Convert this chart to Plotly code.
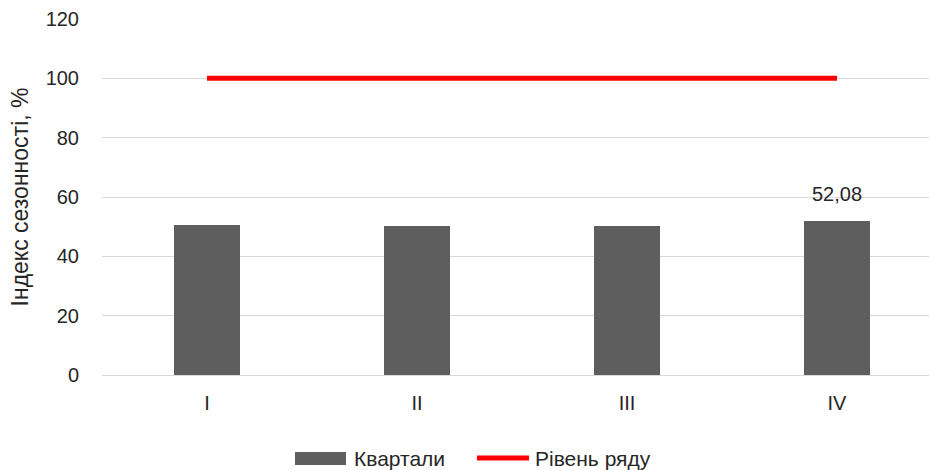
import plotly.graph_objects as go

# Seasonality index by quarter, %
quarters = ["I", "II", "III", "IV"]
season_index = [50.56, 50.22, 50.2, 52.08]
series_level = [100, 100, 100, 100]
labelled = [False, False, False, True]
y_ticks = [0, 20, 40, 60, 80, 100, 120]

FONT = "Liberation Sans, Arial, sans-serif"
TEXT = "#262626"
BAR_COLOR = "#5e5e5e"
LINE_COLOR = "#ff0000"

W, H = 929, 470
ML, MR, MT, MB = 102, 0, 19, 95
PW, PH = W - ML - MR, H - MT - MB

fig = go.Figure()
fig.add_trace(go.Bar(
    x=quarters, y=season_index, name="Квартали",
    marker=dict(color=BAR_COLOR, line=dict(width=0)),
    width=0.314, showlegend=False,
))
fig.add_trace(go.Scatter(
    x=quarters, y=series_level, name="Рівень ряду", mode="lines",
    line=dict(color=LINE_COLOR, width=5), showlegend=False,
))

# value label above the last bar
for q, v, show in zip(quarters, season_index, labelled):
    if show:
        fig.add_annotation(
            x=q, y=v, text=f"{v:.2f}".replace(".", ","), showarrow=False,
            yanchor="bottom", yshift=14, font=dict(size=20, color=TEXT, family=FONT),
        )


# legend drawn below the plot, positioned in pixels of the figure
def px_x(px):
    return (px - ML) / PW


def px_y(py):
    return (H - MB - py) / PH


legend_y = 458
fig.add_shape(type="rect", xref="paper", yref="paper",
              x0=px_x(295), x1=px_x(346), y0=px_y(452), y1=px_y(465),
              fillcolor=BAR_COLOR, line=dict(width=0))
fig.add_annotation(xref="paper", yref="paper", x=px_x(352), y=px_y(legend_y),
                   text="Квартали", showarrow=False, xanchor="left", yanchor="middle",
                   font=dict(size=21, color=TEXT, family=FONT))
fig.add_shape(type="line", xref="paper", yref="paper",
              x0=px_x(477), x1=px_x(529), y0=px_y(legend_y), y1=px_y(legend_y),
              line=dict(color=LINE_COLOR, width=5))
fig.add_annotation(xref="paper", yref="paper", x=px_x(533), y=px_y(legend_y),
                   text="Рівень ряду", showarrow=False, xanchor="left", yanchor="middle",
                   font=dict(size=21, color=TEXT, family=FONT))

fig.update_layout(
    width=W, height=H,
    margin=dict(l=ML, r=MR, t=MT, b=MB),
    paper_bgcolor="white", plot_bgcolor="white",
    font=dict(family=FONT, size=20, color=TEXT),
    showlegend=False,
    bargap=0,
)
fig.update_xaxes(
    range=[-0.5, 3.438], showgrid=False, showline=False, zeroline=False,
    ticks="", ticklabelstandoff=14, tickfont=dict(size=20, color=TEXT),
)
fig.update_yaxes(
    range=[0, 120], tickvals=y_ticks, showgrid=True, gridcolor="#d9d9d9",
    gridwidth=1, zeroline=True, zerolinecolor="#d9d9d9", zerolinewidth=1,
    showline=False, ticks="", ticklabelstandoff=22,
    tickfont=dict(size=20, color=TEXT),
    title=dict(text="Індекс сезонності, %", standoff=10,
               font=dict(size=23, color=TEXT)),
)

fig.write_html("out.html")
